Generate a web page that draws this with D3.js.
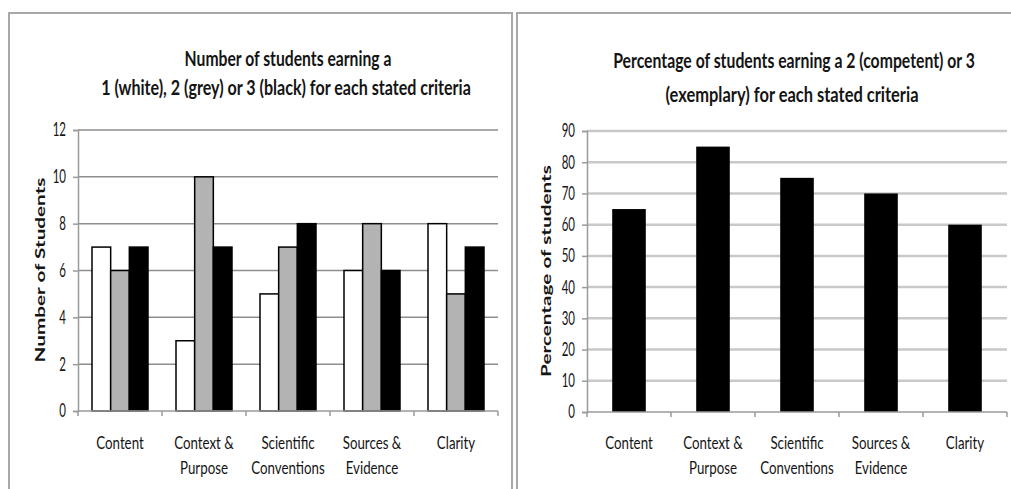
<!DOCTYPE html>
<html>
<head>
<meta charset="utf-8">
<script src="https://cdn.jsdelivr.net/npm/d3@7"></script>
<style>
  body { margin: 0; background: #fff; }
  svg text { font-family: Lato, "DejaVu Sans Condensed", sans-serif; fill: #141414; }
</style>
</head>
<body>
<svg id="chart" width="1011" height="489"></svg>
<script>
// 1] data ---------------------------------------//
const categories = ["Content", "Context & Purpose", "Scientific Conventions", "Sources & Evidence", "Clarity"];
const catLines = [["Content"], ["Context &", "Purpose"], ["Scientific", "Conventions"], ["Sources &", "Evidence"], ["Clarity"]];
const series = ["1 (white)", "2 (grey)", "3 (black)"];
const seriesFill = ["#ffffff", "#b3b3b3", "#000000"];
const scoreWhite = [7, 3, 5, 6, 8];
const scoreGrey = [6, 10, 7, 8, 5];
const scoreBlack = [7, 7, 8, 6, 7];
const percentCompetent = [65, 85, 75, 70, 60];
const countTicks = [0, 2, 4, 6, 8, 10, 12];
const percentTicks = [0, 10, 20, 30, 40, 50, 60, 70, 80, 90];

// text in the picture is squeezed sideways, so squeeze it too
const tickSX = 0.62;
const catSX = 0.76;

const svg = d3.select("#chart");

// panel frames
svg.append("rect").attr("x", 9).attr("y", 13).attr("width", 503).attr("height", 500)
   .attr("fill", "none").attr("stroke", "#a8a8a8").attr("stroke-width", 2);
svg.append("rect").attr("x", 517).attr("y", 13).attr("width", 520).attr("height", 500)
   .attr("fill", "none").attr("stroke", "#a8a8a8").attr("stroke-width", 2);

// category axis: ticks on band edges, two line labels
function drawCatAxis(g, x, y0, x0, x1) {
  g.append("line").attr("x1", x0).attr("x2", x1).attr("y1", y0).attr("y2", y0)
   .attr("stroke", "#9a9a9a").attr("stroke-width", 1.5);
  const bounds = categories.map(c => x(c)).concat([x1]);
  g.selectAll(".ctick").data(bounds).enter().append("line")
   .attr("x1", d => d).attr("x2", d => d).attr("y1", y0).attr("y2", y0 + 5)
   .attr("stroke", "#9a9a9a").attr("stroke-width", 1.5);
  const lab = g.selectAll(".clab").data(categories).enter().append("text")
   .attr("text-anchor", "middle").attr("font-size", 17.5)
   .attr("transform", d => `translate(${x(d) + x.bandwidth() / 2},${449}) scale(${catSX},1)`);
  lab.each(function (d, i) {
    d3.select(this).selectAll("tspan").data(catLines[i]).enter().append("tspan")
      .attr("x", 0).attr("dy", (t, j) => j === 0 ? 0 : 25).text(t => t);
  });
}

function styleYAxis(ya, gap) {
  ya.attr("font-family", null);
  ya.select(".domain").attr("stroke", "#9a9a9a").attr("stroke-width", 1.5);
  ya.selectAll(".tick line").attr("stroke", "#9a9a9a").attr("stroke-width", 1.5);
  ya.selectAll(".tick text").attr("font-size", 18.5).attr("fill", null)
    .attr("x", -gap / tickSX).attr("transform", `scale(${tickSX},1)`);
}

// squeeze a text to a wanted width with a scale, so its box stays true
function fitText(t, len, x, y, rot) {
  const w = t.node().getComputedTextLength();
  const sx = len / w;
  t.attr("transform", `translate(${x},${y})` + (rot ? " rotate(-90)" : "") + ` scale(${sx},1)`);
}

function title(g, txt, x, y, len, size) {
  const t = g.append("text").attr("text-anchor", "middle").attr("font-weight", "bold")
   .attr("font-size", size).text(txt);
  fitText(t, len, x, y, false);
}

function yTitle(g, txt, x, y, len) {
  const t = g.append("text").attr("text-anchor", "middle").attr("font-weight", "bold").attr("font-size", 14)
   .attr("font-family", "Liberation Sans, Arial, sans-serif").text(txt);
  fitText(t, len, x, y, true);
}

// 2] left chart : grouped counts ----------------//
{
  const left = 78, right = 498, top = 130, bottom = 411;
  const g = svg.append("g");
  const x0 = d3.scaleBand().domain(categories).range([left, right]).padding(0);
  const x1 = d3.scaleBand().domain(series).range([0, x0.bandwidth()]).paddingInner(0).paddingOuter(0.75);
  const y = d3.scaleLinear().domain([0, 12]).range([bottom, top]);

  g.selectAll(".grid").data(countTicks.slice(1)).enter().append("line")
   .attr("x1", left).attr("x2", right).attr("y1", d => y(d)).attr("y2", d => y(d))
   .attr("stroke", "#8e8e8e").attr("stroke-width", 1.5);

  const ya = g.append("g").attr("transform", `translate(${left},0)`)
   .call(d3.axisLeft(y).tickValues(countTicks).tickSize(5));
  styleYAxis(ya, 12);

  const rows = categories.map((c, i) => ({ c, vals: [scoreWhite[i], scoreGrey[i], scoreBlack[i]] }));
  const grp = g.selectAll(".grp").data(rows).enter().append("g")
   .attr("transform", d => `translate(${x0(d.c)},0)`);
  grp.selectAll("rect").data(d => d.vals.map((v, k) => ({ s: series[k], v, k }))).enter().append("rect")
   .attr("x", d => x1(d.s)).attr("width", x1.bandwidth())
   .attr("y", d => y(d.v)).attr("height", d => y(0) - y(d.v))
   .attr("fill", d => seriesFill[d.k]).attr("stroke", "#000").attr("stroke-width", 1.5);

  drawCatAxis(g, x0, bottom, left, right);

  title(g, "Number of students earning a", 288, 66, 207, 21);
  title(g, "1 (white), 2 (grey) or 3 (black) for each stated criteria", 286, 95, 370, 21);
  yTitle(g, "Number of Students", 45, 270, 185);
}

// 3] right chart : percentage -------------------//
{
  const left = 587, right = 1007, top = 131, bottom = 412;
  const g = svg.append("g");
  const x = d3.scaleBand().domain(categories).range([left, right]).paddingInner(0.6).paddingOuter(0.3);
  const xb = d3.scaleBand().domain(categories).range([left, right]).padding(0);
  const y = d3.scaleLinear().domain([0, 90]).range([bottom, top]);

  g.selectAll(".grid").data(percentTicks.slice(1)).enter().append("line")
   .attr("x1", left).attr("x2", right).attr("y1", d => y(d)).attr("y2", d => y(d))
   .attr("stroke", "#c9c9c9").attr("stroke-width", 2.5);

  const ya = g.append("g").attr("transform", `translate(${left},0)`)
   .call(d3.axisLeft(y).tickValues(percentTicks).tickSize(5));
  styleYAxis(ya, 12);

  g.selectAll(".bar").data(percentCompetent).enter().append("rect")
   .attr("x", (d, i) => x(categories[i])).attr("width", x.bandwidth())
   .attr("y", d => y(d)).attr("height", d => y(0) - y(d))
   .attr("fill", "#000");

  drawCatAxis(g, xb, bottom, left, right);

  title(g, "Percentage of students earning a 2 (competent) or 3", 794, 68, 362, 21);
  title(g, "(exemplary) for each stated criteria", 792, 102, 253, 21);
  yTitle(g, "Percentage of students", 551, 271, 212);
}
</script>
</body>
</html>
